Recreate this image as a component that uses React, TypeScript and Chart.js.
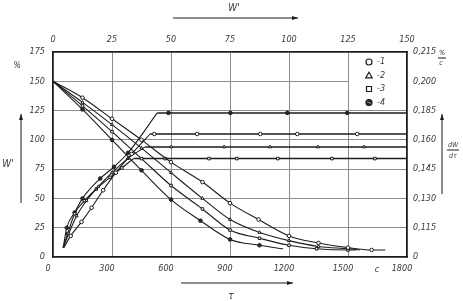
import React, { useEffect, useRef } from "react";
import { Chart, registerables } from "chart.js";

Chart.register(...registerables);

// ---- tick values / labels ----
const X_TICKS = [0, 300, 600, 900, 1200, 1500, 1800];
const TOP_TICKS = [0, 25, 50, 75, 100, 125, 150];
const LEFT_TICKS = [0, 25, 50, 75, 100, 125, 150, 175];
const RIGHT_LABELS = ["0", "0,115", "0,130", "0,145", "0,160", "0,185", "0,200", "0,215"];
const LEGEND_LABELS = ["-1", "-2", "-3", "-4"];

// ---- falling curves (W', %) vs τ ----
const DRY1_T = [0, 150, 300, 450, 600, 760, 900, 1045, 1200, 1350, 1500, 1620, 1690];
const DRY1_V = [150, 136, 118, 100, 81, 64, 46, 32, 18, 12, 8, 6, 6];
const DRY2_T = [0, 150, 300, 450, 600, 760, 900, 1050, 1200, 1350, 1500, 1560];
const DRY2_V = [150, 132, 113, 93, 72, 50, 32, 21, 14, 9, 7, 6];
const DRY3_T = [0, 150, 300, 450, 600, 760, 900, 1050, 1200, 1340, 1500, 1540];
const DRY3_V = [150, 129, 107, 84, 61, 41, 23, 16, 10, 7, 6, 6];
const DRY4_T = [0, 150, 300, 450, 600, 750, 900, 1050, 1170];
const DRY4_V = [150, 126, 100, 74, 49, 31, 15, 10, 7];

// ---- rising curves (rate) and their plateaus ----
const RISE1_T = [55, 90, 145, 196, 255, 320, 400, 494];
const RISE1_V = [8, 18, 30, 42, 57, 72, 88, 105];
const PLAT1_MARKS = [515, 733, 1054, 1242, 1547];
const RISE2_T = [52, 80, 120, 170, 230, 300, 380, 469];
const RISE2_V = [8, 20, 35, 48, 60, 72, 84, 94];
const PLAT2_MARKS = [601, 870, 1104, 1348, 1582];
const RISE3_T = [50, 75, 110, 160, 220, 290, 350, 409];
const RISE3_V = [8, 20, 37, 48, 58, 68, 76, 84];
const PLAT3_MARKS = [570, 793, 935, 1143, 1418, 1637];
const RISE4_T = [52, 70, 110, 150, 240, 310, 382, 530];
const RISE4_V = [8, 25, 38, 50, 67, 77, 89, 123];
const PLAT4_MARKS = [587, 902, 1191, 1496];

const X_MAX = 1800;

const FAMILY = "'Liberation Sans Narrow', 'DejaVu Sans Condensed', 'DejaVu Sans', sans-serif";
const INK = "#1c1c1c";
const TEXT = "#3a3a3a";
const GRID = "#8c8c8c";
const R = 1.8;

type Style = { pointStyle: string; bg: string };
const STYLES: Style[] = [
  { pointStyle: "circle", bg: "#ffffff" },
  { pointStyle: "triangle", bg: "#ffffff" },
  { pointStyle: "rect", bg: "#ffffff" },
  { pointStyle: "circle", bg: "#2a2a2a" },
];

function pts(T: number[], V: number[]) {
  return T.map((t, i) => ({ x: t, y: V[i] }));
}

function curveDataset(T: number[], V: number[], s: Style) {
  return {
    data: pts(T, V),
    showLine: true,
    cubicInterpolationMode: "monotone",
    borderColor: INK,
    borderWidth: 1.1,
    pointStyle: s.pointStyle,
    backgroundColor: s.bg,
    pointBorderColor: INK,
    pointBorderWidth: 1,
    pointRadius: T.map((_, i) => (i === 0 || i === T.length - 1 ? 0 : R)),
  };
}

function plateauDataset(T: number[], V: number[], marks: number[], s: Style) {
  const level = V[V.length - 1];
  const xs = [T[T.length - 1], ...marks, X_MAX];
  return {
    data: xs.map((x) => ({ x, y: level })),
    showLine: true,
    tension: 0,
    borderColor: INK,
    borderWidth: 1.5,
    pointStyle: s.pointStyle,
    backgroundColor: s.bg,
    pointBorderColor: INK,
    pointBorderWidth: 1,
    pointRadius: xs.map((_, i) => (i === 0 || i === xs.length - 1 ? 0 : R)),
  };
}

function arrow(ctx: CanvasRenderingContext2D, x1: number, y1: number, x2: number, y2: number) {
  ctx.beginPath();
  ctx.moveTo(x1, y1);
  ctx.lineTo(x2, y2);
  ctx.stroke();
  const a = Math.atan2(y2 - y1, x2 - x1);
  const L = 6, W = 2;
  ctx.beginPath();
  ctx.moveTo(x2, y2);
  ctx.lineTo(x2 - L * Math.cos(a) + W * Math.sin(a), y2 - L * Math.sin(a) - W * Math.cos(a));
  ctx.lineTo(x2 - L * Math.cos(a) - W * Math.sin(a), y2 - L * Math.sin(a) + W * Math.cos(a));
  ctx.closePath();
  ctx.fill();
}

function marker(ctx: CanvasRenderingContext2D, kind: number, x: number, y: number) {
  ctx.save();
  ctx.strokeStyle = INK;
  ctx.lineWidth = 1.2;
  ctx.fillStyle = STYLES[kind].bg;
  ctx.beginPath();
  if (kind === 0 || kind === 3) {
    ctx.arc(x, y, 3, 0, Math.PI * 2);
  } else if (kind === 1) {
    ctx.moveTo(x, y - 3.2);
    ctx.lineTo(x + 3.2, y + 2.3);
    ctx.lineTo(x - 3.2, y + 2.3);
    ctx.closePath();
  } else {
    ctx.rect(x - 2.5, y - 2.5, 5, 5);
  }
  ctx.fill();
  ctx.stroke();
  if (kind === 3) {
    ctx.strokeStyle = "#aaa";
    ctx.lineWidth = 0.8;
    ctx.beginPath();
    ctx.moveTo(x - 2, y - 1);
    ctx.lineTo(x + 2, y + 1);
    ctx.stroke();
  }
  ctx.restore();
}

const annotations = {
  id: "annotations",
  beforeDatasetsDraw(chart: any) {
    const { ctx, scales } = chart;
    const x = scales.x, y = scales.y;
    const l = x.getPixelForValue(1500) + 1;
    const r = x.getPixelForValue(1800) - 1;
    const t = y.getPixelForValue(175) + 1;
    const b = y.getPixelForValue(125) - 1;
    ctx.save();
    ctx.fillStyle = "#ffffff";
    ctx.fillRect(l, t, r - l, b - t);
    ctx.restore();
  },
  afterDraw(chart: any) {
    const { ctx, scales } = chart;
    const x = scales.x, y = scales.y;
    ctx.save();
    ctx.fillStyle = TEXT;
    ctx.strokeStyle = TEXT;
    ctx.lineWidth = 1;
    ctx.textAlign = "center";
    ctx.textBaseline = "middle";

    // legend
    const lx = x.getPixelForValue(1500);
    const ly = y.getPixelForValue(175);
    LEGEND_LABELS.forEach((lab, i) => {
      const my = ly + 10 + i * 13.5;
      marker(ctx, i, lx + 21, my);
      ctx.fillStyle = TEXT;
      ctx.font = `italic 9px ${FAMILY}`;
      ctx.textAlign = "left";
      ctx.fillText(lab, lx + 29, my);
    });

    ctx.textAlign = "center";
    ctx.font = `italic 10px ${FAMILY}`;
    // top W' + arrow
    ctx.fillText("W'", 234, 8);
    ctx.fillStyle = INK;
    ctx.strokeStyle = INK;
    arrow(ctx, 173, 18, 298, 18);
    // bottom τ + arrow
    arrow(ctx, 181, 283, 293, 283);
    ctx.fillStyle = TEXT;
    ctx.fillText("τ", 231, 296);
    ctx.font = `italic 9px ${FAMILY}`;
    ctx.fillText("с", 377, 270);

    // left
    ctx.fillText("%", 17, 66);
    ctx.font = `italic 10px ${FAMILY}`;
    ctx.fillText("W'", 8, 164);
    ctx.strokeStyle = INK;
    ctx.fillStyle = INK;
    arrow(ctx, 21, 203, 21, 114);

    // right
    ctx.fillStyle = TEXT;
    ctx.font = `italic 7px ${FAMILY}`;
    ctx.fillText("%", 442, 53);
    ctx.beginPath();
    ctx.moveTo(438, 58);
    ctx.lineTo(446, 58);
    ctx.stroke();
    ctx.fillText("с", 441, 63);
    ctx.fillStyle = INK;
    arrow(ctx, 442, 194, 442, 114);
    ctx.fillStyle = TEXT;
    ctx.font = `italic 7px ${FAMILY}`;
    ctx.fillText("dW", 453, 145);
    ctx.beginPath();
    ctx.moveTo(447, 150);
    ctx.lineTo(459, 150);
    ctx.stroke();
    ctx.fillText("dτ", 453, 156);
    ctx.restore();
  },
};

export default function App() {
  const ref = useRef<HTMLCanvasElement>(null);

  useEffect(() => {
    const font = { family: FAMILY, size: 9, style: "italic" as const };
    const plain = (v: any) => String(v);
    const chart = new Chart(ref.current!, {
      type: "scatter",
      data: {
        datasets: [
          curveDataset(DRY1_T, DRY1_V, STYLES[0]),
          curveDataset(DRY2_T, DRY2_V, STYLES[1]),
          curveDataset(DRY3_T, DRY3_V, STYLES[2]),
          curveDataset(DRY4_T, DRY4_V, STYLES[3]),
          curveDataset(RISE1_T, RISE1_V, STYLES[0]),
          curveDataset(RISE2_T, RISE2_V, STYLES[1]),
          curveDataset(RISE3_T, RISE3_V, STYLES[2]),
          curveDataset(RISE4_T, RISE4_V, STYLES[3]),
          plateauDataset(RISE1_T, RISE1_V, PLAT1_MARKS, STYLES[0]),
          plateauDataset(RISE2_T, RISE2_V, PLAT2_MARKS, STYLES[1]),
          plateauDataset(RISE3_T, RISE3_V, PLAT3_MARKS, STYLES[2]),
          plateauDataset(RISE4_T, RISE4_V, PLAT4_MARKS, STYLES[3]),
        ] as any,
      },
      options: {
        animation: false,
        responsive: false,
        devicePixelRatio: 1,
        layout: { padding: 0 },
        plugins: { legend: { display: false }, tooltip: { enabled: false } },
        scales: {
          x: {
            type: "linear",
            position: "bottom",
            min: 0,
            max: 1800,
            afterBuildTicks: (s: any) => {
              s.ticks = X_TICKS.map((v) => ({ value: v }));
            },
            ticks: { font, color: TEXT, padding: 6, labelOffset: -5, maxRotation: 0, autoSkip: false, callback: plain },
            grid: { color: GRID, lineWidth: 1, drawTicks: false },
            border: { color: INK, width: 1.6 },
            afterFit: (s: any) => {
              s.height = 44;
            },
          },
          x2: {
            type: "linear",
            position: "top",
            min: 0,
            max: 150,
            afterBuildTicks: (s: any) => {
              s.ticks = TOP_TICKS.map((v) => ({ value: v }));
            },
            ticks: { font, color: TEXT, padding: 7, maxRotation: 0, autoSkip: false, callback: plain },
            grid: { display: false, drawTicks: false },
            border: { color: INK, width: 1.6 },
            afterFit: (s: any) => {
              s.height = 52;
            },
          },
          y: {
            type: "linear",
            position: "left",
            min: 0,
            max: 175,
            afterBuildTicks: (s: any) => {
              s.ticks = LEFT_TICKS.map((v) => ({ value: v }));
            },
            ticks: { font, color: TEXT, padding: 8, autoSkip: false, callback: plain },
            grid: { color: GRID, lineWidth: 1, drawTicks: false },
            border: { color: INK, width: 1.6 },
            afterFit: (s: any) => {
              s.width = 53;
            },
          },
          y2: {
            type: "linear",
            position: "right",
            min: 0,
            max: 175,
            afterBuildTicks: (s: any) => {
              s.ticks = LEFT_TICKS.map((v) => ({ value: v }));
            },
            ticks: {
              font,
              color: TEXT,
              padding: 6,
              autoSkip: false,
              callback: (v: any) => RIGHT_LABELS[Math.round(Number(v) / 25)],
            },
            grid: { display: false, drawTicks: false },
            border: { color: INK, width: 1.6 },
            afterFit: (s: any) => {
              s.width = 56;
            },
          },
        },
      } as any,
      plugins: [annotations],
    });
    return () => chart.destroy();
  }, []);

  return (
    <div style={{ position: "absolute", left: 0, top: 0, width: 463, height: 301, background: "#fff" }}>
      <canvas ref={ref} width={463} height={301} style={{ width: 463, height: 301, display: "block" }} />
    </div>
  );
}
